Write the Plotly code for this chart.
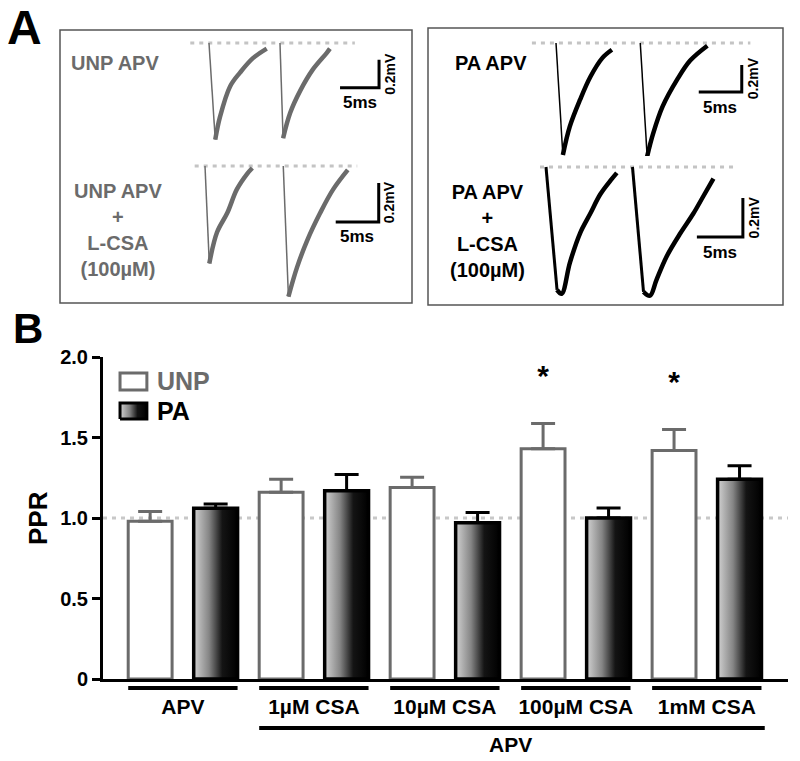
import plotly.graph_objects as go

W, H = 800, 761
GRAY = "#6b6b6b"
FONT = "Liberation Sans"

# ---- panel B: paired-pulse ratio
groups = ["APV", "1µM CSA", "10µM CSA", "100µM CSA", "1mM CSA"]
unp_ppr = [0.98, 1.16, 1.19, 1.43, 1.42]
unp_sem = [0.06, 0.08, 0.063, 0.157, 0.13]
pa_ppr = [1.06, 1.17, 0.97, 1.00, 1.24]
pa_sem = [0.027, 0.10, 0.064, 0.062, 0.085]
significant = [False, False, False, True, True]
ppr_ticks = [0, 0.5, 1.0, 1.5, 2.0]
ppr_ticktext = ["0", "0.5", "1.0", "1.5", "2.0"]

# ---- panel A: example fEPSP pairs (ms, mV), None separates the two pulses
unp_apv_ms = [0, 0.8, 1.4, 2.7, 4.0, 5.6, 7.4, None, 9.1, 9.5, 10.4, 11.7, 13.3, 15.1, 15.5]
unp_apv_mv = [0, -0.69, -0.53, -0.31, -0.21, -0.11, -0.04, None, 0, -0.68, -0.50, -0.34, -0.19, -0.07, -0.04]
unp_csa_ms = [0, 0.5, 1.4, 2.6, 3.7, 4.9, 5.5, None, 9.1, 9.7, 10.7, 11.9, 13.4, 14.9, 16.6]
unp_csa_mv = [0, -0.50, -0.34, -0.24, -0.12, -0.04, -0.01, None, 0, -0.67, -0.52, -0.38, -0.24, -0.12, -0.02]
pa_apv_ms = [0, 0.8, 1.6, 2.8, 4.0, 5.4, 6.5, None, 9.8, 10.6, 11.3, 12.4, 14.1, 15.6, 17.6]
pa_apv_mv = [0, -0.83, -0.62, -0.42, -0.25, -0.11, -0.05, None, 0, -0.84, -0.67, -0.47, -0.27, -0.13, -0.02]
pa_csa_ms = [0, 1.2, 1.7, 2.6, 3.7, 4.8, 5.9, 7.0, 7.7, None, 9.4, 10.6, 11.3, 12.0, 13.1, 14.6, 16.0, 17.1, 18.2]
pa_csa_mv = [0, -0.63, -0.65, -0.49, -0.34, -0.24, -0.14, -0.07, -0.03, None, 0, -0.64, -0.66, -0.58, -0.46, -0.34, -0.24, -0.15, -0.06]
scale_ms, scale_mv = 5, 0.2


def px(x):
    return x / W


def py(y):
    return 1 - y / H


def bold(size, color="black"):
    return dict(family=FONT, size=size, color=color, weight="bold")


fig = go.Figure()
shapes, annotations = [], []

# ---------------- panel B ----------------
BAR_W = 0.67
unp_x = [2 * i for i in range(len(groups))]
pa_x = [2 * i + 1 for i in range(len(groups))]

fig.add_trace(go.Bar(
    x=unp_x, y=unp_ppr, width=BAR_W,
    marker=dict(color="white", line=dict(color=GRAY, width=3)),
    error_y=dict(type="data", symmetric=False, array=unp_sem, arrayminus=[0] * 5,
                 color=GRAY, thickness=3, width=12),
))
fig.add_trace(go.Bar(
    x=pa_x, y=pa_ppr, width=BAR_W,
    marker=dict(color="rgba(0,0,0,0)", line=dict(width=0)),
    error_y=dict(type="data", symmetric=False, array=pa_sem, arrayminus=[0] * 5,
                 color="black", thickness=3, width=12),
))
grad = dict(type="horizontal",
            colorscale=[[0, "#d2d2d2"], [0.35, "#858585"], [0.65, "#141414"], [1, "#000000"]])
for xc, v in zip(pa_x, pa_ppr):
    xl, xr = xc - BAR_W / 2, xc + BAR_W / 2
    fig.add_trace(go.Scatter(
        x=[xl, xl, xr, xr, xl], y=[0, v, v, 0, 0], mode="lines",
        fill="toself", fillgradient=grad, line=dict(color="black", width=3.5),
        hoverinfo="skip",
    ))

STAR_GAP = 0.28
star_x = [x for x, s in zip(unp_x, significant) if s]
star_y = [v + e + STAR_GAP for v, e, s in zip(unp_ppr, unp_sem, significant) if s]
fig.add_trace(go.Scatter(x=star_x, y=star_y, mode="text", text=["*"] * len(star_x),
                         textfont=bold(30), hoverinfo="skip"))

# legend (drawn by hand to match the boxed swatches)
shapes.append(dict(type="rect", xref="x", yref="y", x0=-0.46, x1=-0.05, y0=1.795, y1=1.90,
                   line=dict(color=GRAY, width=3), fillcolor="white"))
fig.add_trace(go.Scatter(
    x=[-0.46, -0.46, -0.05, -0.05, -0.46], y=[1.615, 1.714, 1.714, 1.615, 1.615],
    mode="lines", fill="toself", fillgradient=grad, line=dict(color="black", width=3),
    hoverinfo="skip"))
annotations.append(dict(x=0.08, y=1.85, xref="x", yref="y", text="UNP", showarrow=False,
                        xanchor="left", font=bold(25, GRAY)))
annotations.append(dict(x=0.08, y=1.665, xref="x", yref="y", text="PA", showarrow=False,
                        xanchor="left", font=bold(25)))

# reference line at PPR = 1
shapes.append(dict(type="line", xref="paper", yref="y", x0=px(103), x1=px(788), y0=1, y1=1,
                   layer="below", line=dict(color="#c8c8c8", width=3, dash="4px,5px")))

# group underlines and the APV bracket
for i in range(len(groups)):
    shapes.append(dict(type="line", xref="x", yref="paper",
                       x0=unp_x[i] - BAR_W / 2, x1=pa_x[i] + BAR_W / 2,
                       y0=py(688), y1=py(688), line=dict(color="black", width=4)))
shapes.append(dict(type="line", xref="x", yref="paper",
                   x0=unp_x[1] - BAR_W / 2, x1=pa_x[-1] + BAR_W / 2 + 0.05,
                   y0=py(728), y1=py(728), line=dict(color="black", width=4)))
annotations.append(dict(x=(unp_x[1] + pa_x[-1]) / 2, y=py(744), xref="x", yref="paper",
                        text="APV", showarrow=False, font=bold(21)))

annotations.append(dict(x=px(38), y=py(518), xref="paper", yref="paper", text="PPR",
                        showarrow=False, textangle=-90, font=bold(26)))
annotations.append(dict(x=px(28), y=py(328), xref="paper", yref="paper", text="B",
                        showarrow=False, font=bold(42)))

layout_axes = dict(
    xaxis=dict(domain=[px(103), px(788)], range=[-0.72, 9.74], showline=True, linewidth=3,
               linecolor="black", tickvals=[2 * i + 0.5 for i in range(len(groups))],
               ticktext=groups, ticks="outside", ticklen=7, tickcolor="rgba(0,0,0,0)",
               tickfont=bold(21), showgrid=False, zeroline=False, fixedrange=True,
               automargin=False),
    yaxis=dict(domain=[py(679), py(357)], range=[0, 2], showline=True, linewidth=3,
               linecolor="black", tickvals=ppr_ticks, ticktext=ppr_ticktext,
               ticks="outside", ticklen=8, tickwidth=3, tickcolor="black",
               tickfont=bold(20), showgrid=False, zeroline=False, fixedrange=True,
               automargin=False),
)

# ---------------- panel A ----------------
rows = [
    dict(ms=unp_apv_ms, mv=unp_apv_mv, color=GRAY, fall=1.5,
         box=(185, 405, 33, 150), origin=(209, 43), px_ms=7.8, px_mv=140,
         corner=(21.8, -0.32), base=(-2.4, 18.7)),
    dict(ms=unp_csa_ms, mv=unp_csa_mv, color=GRAY, fall=1.5,
         box=(185, 405, 156, 305), origin=(205, 166), px_ms=8.6, px_mv=195,
         corner=(20.2, -0.287), base=(-1.2, 17.7)),
    dict(ms=pa_apv_ms, mv=pa_apv_mv, color="black", fall=1.5,
         box=(525, 775, 33, 165), origin=(556, 43), px_ms=8.6, px_mv=135,
         corner=(21.6, -0.363), base=(-2.8, 22.6)),
    dict(ms=pa_csa_ms, mv=pa_csa_mv, color="black", fall=3,
         box=(525, 775, 156, 305), origin=(546, 167), px_ms=9.2, px_mv=195,
         corner=(21.4, -0.359), base=(-0.65, 20.8)),
]

for k, r in enumerate(rows):
    n = k + 2
    x0, x1, y0, y1 = r["box"]
    ox, oy = r["origin"]
    layout_axes[f"xaxis{n}"] = dict(domain=[px(x0), px(x1)], anchor=f"y{n}", visible=False,
                                    range=[(x0 - ox) / r["px_ms"], (x1 - ox) / r["px_ms"]],
                                    fixedrange=True, automargin=False)
    layout_axes[f"yaxis{n}"] = dict(domain=[py(y1), py(y0)], anchor=f"x{n}", visible=False,
                                    range=[-(y1 - oy) / r["px_mv"], (oy - y0) / r["px_mv"]],
                                    fixedrange=True, automargin=False)
    xa, ya = f"x{n}", f"y{n}"
    # dotted baseline
    fig.add_trace(go.Scatter(x=list(r["base"]), y=[0, 0], mode="lines", xaxis=xa, yaxis=ya,
                             line=dict(color="#c4c4c4", width=3, dash="4px,5px"),
                             hoverinfo="skip"))
    # split into pulses: thin stimulus fall, thick recovery
    pulses, cur = [], []
    for t, v in zip(r["ms"], r["mv"]):
        if t is None:
            pulses.append(cur)
            cur = []
        else:
            cur.append((t, v))
    pulses.append(cur)
    thin_x, thin_y, thick_x, thick_y = [], [], [], []
    for p in pulses:
        thin_x += [p[0][0], p[1][0], None]
        thin_y += [p[0][1], p[1][1], None]
        thick_x += [q[0] for q in p[1:]] + [None]
        thick_y += [q[1] for q in p[1:]] + [None]
    fig.add_trace(go.Scatter(x=thin_x, y=thin_y, mode="lines", xaxis=xa, yaxis=ya,
                             line=dict(color=r["color"], width=r["fall"]), hoverinfo="skip"))
    fig.add_trace(go.Scatter(x=thick_x, y=thick_y, mode="lines", xaxis=xa, yaxis=ya,
                             line=dict(color=r["color"], width=4.5, shape="spline"),
                             hoverinfo="skip"))
    # scale bar
    ct, cv = r["corner"]
    fig.add_trace(go.Scatter(x=[ct - scale_ms, ct, ct], y=[cv, cv, cv + scale_mv],
                             mode="lines", xaxis=xa, yaxis=ya,
                             line=dict(color="black", width=3), hoverinfo="skip"))
    annotations.append(dict(x=ct - scale_ms / 2, y=cv, xref=xa, yref=ya, text=f"{scale_ms}ms",
                            showarrow=False, yshift=-15, font=bold(17)))
    annotations.append(dict(x=ct, y=cv + scale_mv / 2, xref=xa, yref=ya,
                            text=f"{scale_mv}mV", showarrow=False, xshift=11,
                            textangle=-90, font=bold(14)))

# condition labels
annotations += [
    dict(x=px(115), y=py(63), text="UNP APV", font=bold(20, GRAY)),
    dict(x=px(118), y=py(230), text="UNP APV<br>+<br>L-CSA<br>(100µM)", font=bold(20, GRAY)),
    dict(x=px(491), y=py(63), text="PA APV", font=bold(20)),
    dict(x=px(487), y=py(231), text="PA APV<br>+<br>L-CSA<br>(100µM)", font=bold(20)),
    dict(x=px(24), y=py(27), text="A", font=bold(48)),
]
for a in annotations[-5:]:
    a.update(xref="paper", yref="paper", showarrow=False)

for a in annotations:
    a.setdefault("xanchor", "center")
    a.setdefault("yanchor", "middle")

# panel A frames
shapes.append(dict(type="rect", xref="paper", yref="paper", x0=px(60), x1=px(412),
                   y0=py(303), y1=py(30), line=dict(color="#555555", width=1.5)))
shapes.append(dict(type="rect", xref="paper", yref="paper", x0=px(428), x1=px(783),
                   y0=py(305), y1=py(28), line=dict(color="#555555", width=1.5)))

fig.update_layout(
    width=W, height=H, margin=dict(l=0, r=0, t=0, b=0, autoexpand=False),
    plot_bgcolor="white", paper_bgcolor="white", showlegend=False,
    barmode="overlay", shapes=shapes, annotations=annotations,
    font=dict(family=FONT), **layout_axes,
)

fig.write_html("out.html", config={"displayModeBar": False},
               post_script="document.body.style.margin='0px';")
